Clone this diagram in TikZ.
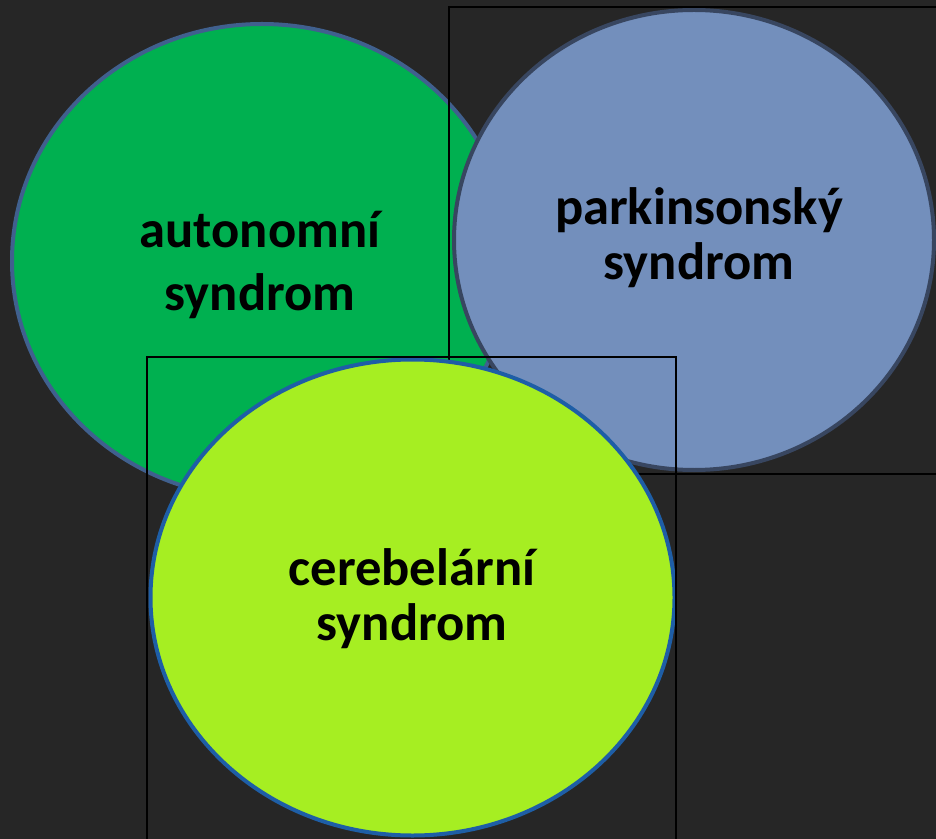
\documentclass[tikz,border=0pt]{standalone}
\usepackage{fontspec}
\setmainfont{Carlito}
\usetikzlibrary{shapes.geometric}
\definecolor{bgdark}{RGB}{38,38,38}
\definecolor{autgreen}{RGB}{0,176,80}
\definecolor{autline}{RGB}{64,96,142}
\definecolor{parkblue}{RGB}{115,143,188}
\definecolor{parkline}{RGB}{56,70,96}
\definecolor{cerlime}{RGB}{166,238,34}
\definecolor{cerline}{RGB}{30,94,166}
\begin{document}
\begin{tikzpicture}[x=0.5pt,y=-0.5pt,
  syn/.style={draw, ellipse, line width=2pt, inner sep=0pt},
  frame/.style={draw=black, line width=0.7pt, fill=none},
  lbl/.style={align=center, anchor=base, font=\bfseries\fontsize{26.3}{27.5}\selectfont}]
\fill[bgdark] (0,0) rectangle (936,839);
\useasboundingbox (0,0) rectangle (936,839);

\node[syn, draw=autline, fill=autgreen, minimum width=250pt, minimum height=237pt] (aut) at (262,261) {};
\node[syn, draw=parkline, fill=parkblue, minimum width=240pt, minimum height=230pt] (park) at (694,240) {};
\node[frame, inner sep=0pt, minimum width=245.5pt, minimum height=233.5pt] (parkbox) at (694.5,240.5) {};
\node[syn, draw=cerline, fill=cerlime, minimum width=262pt, minimum height=238pt] (cer) at (412.5,597.5) {};
\node[frame, inner sep=0pt, minimum width=264.5pt, minimum height=244pt] (cerbox) at (411.5,601) {};

% anchor=base sits on the last line
\node[lbl, font=\bfseries\fontsize{26.3}{31.5}\selectfont] (autlbl) at (260,311) {autonomní\\syndrom};
\node[lbl] (parklbl) at (699,280) {parkinsonský\\syndrom};
\node[lbl] (cerlbl) at (412,640) {cerebelární\\syndrom};
\end{tikzpicture}
\end{document}
